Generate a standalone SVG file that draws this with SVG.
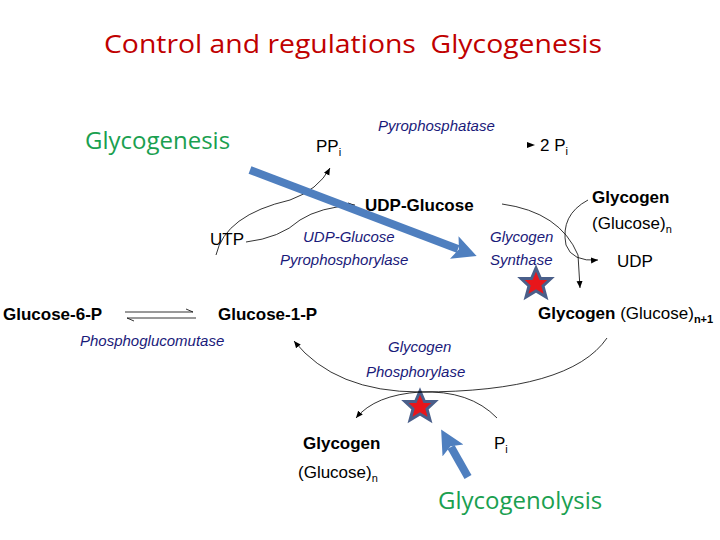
<svg xmlns="http://www.w3.org/2000/svg" width="720" height="540" viewBox="0 0 720 540">
<style>
.t{font-family:"Liberation Sans",Arial,sans-serif;fill:#000}
.b{font-weight:bold;font-size:17px}
.n{font-size:17px}
.e{font-family:"Liberation Sans",Arial,sans-serif;font-style:italic;fill:#1a1a7a;font-size:15px}
.g{font-family:"Open Sans","Liberation Sans",sans-serif;fill:#1aa050;font-size:24px}
.c{fill:none;stroke:#000;stroke-width:0.8}
.star{fill:#e8161b;stroke:#4a5f8a;stroke-width:3;stroke-linejoin:miter}
.big{stroke:#4f7fbf;stroke-width:8;fill:none}
</style>
<defs>
<marker id="a" markerWidth="8" markerHeight="8" refX="7" refY="4" orient="auto" markerUnits="userSpaceOnUse"><path d="M0,1 L7,4 L0,7 Z" fill="#000"/></marker>
<marker id="bA" markerWidth="30" markerHeight="30" refX="4" refY="12" orient="auto" markerUnits="userSpaceOnUse"><path d="M0,0 L24,12 L0,24 L5,12 Z" fill="#4f7fbf"/></marker>
</defs>
<rect width="720" height="540" fill="#fff"/>
<text x="353" y="53" text-anchor="middle" font-family="Open Sans,Liberation Sans,sans-serif" font-size="25" fill="#c00000" textLength="498" lengthAdjust="spacingAndGlyphs" xml:space="preserve">Control and regulations  Glycogenesis</text>
<text class="g" x="85" y="149">Glycogenesis</text>
<text class="g" x="438" y="509">Glycogenolysis</text>
<g id="nodes">
<g id="ppi"><text class="t n" x="316" y="152">PP<tspan font-size="11" dy="4">i</tspan></text></g>
<g id="pyrophosphatase"><text class="e" x="378" y="131">Pyrophosphatase</text></g>
<g id="twopi"><path d="M527,142 L535,145 L527,148 Z"/><text class="t n" x="540" y="151">2 P<tspan font-size="11" dy="4">i</tspan></text></g>
<g id="udpglc"><text class="t b" x="365" y="211">UDP-Glucose</text></g>
<g id="utp"><text class="t n" x="210" y="245">UTP</text></g>
<g id="udpgp"><text class="e" x="303" y="242">UDP-Glucose</text><text class="e" x="280" y="265">Pyrophosphorylase</text></g>
<g id="gs"><text class="e" x="490" y="242">Glycogen</text><text class="e" x="490" y="265">Synthase</text></g>
<g id="glycn"><text class="t b" x="592" y="203">Glycogen</text><text class="t n" x="592" y="229">(Glucose)<tspan font-size="11" dy="4">n</tspan></text></g>
<g id="udp"><text class="t n" x="617" y="267">UDP</text></g>
<g id="g6p"><text class="t b" x="3" y="320">Glucose-6-P</text></g>
<g id="g1p"><text class="t b" x="218" y="320">Glucose-1-P</text></g>
<g id="glycn1"><text class="t b" x="538" y="319">Glycogen <tspan font-weight="normal">(Glucose)</tspan><tspan font-size="11" dy="4">n+1</tspan></text></g>
<g id="pgm"><text class="e" x="80" y="346">Phosphoglucomutase</text></g>
<g id="gp"><text class="e" x="388" y="352">Glycogen</text><text class="e" x="366" y="377">Phosphorylase</text></g>
<g id="glycn2"><text class="t b" x="303" y="449">Glycogen</text><text class="t n" x="298" y="478">(Glucose)<tspan font-size="11" dy="4">n</tspan></text></g>
<g id="pi"><text class="t n" x="494" y="449">P<tspan font-size="11" dy="4">i</tspan></text></g>
<g id="star1"><path class="star" transform="translate(536,283)" d="M0,-15 L4.5,-4.5 L15,-4.5 L7,3 L10,14 L0,8 L-10,14 L-7,3 L-15,-4.5 L-4.5,-4.5 Z"/></g>
<g id="star2"><path class="star" transform="translate(420,406)" d="M0,-15 L4.5,-4.5 L15,-4.5 L7,3 L10,14 L0,8 L-10,14 L-7,3 L-15,-4.5 L-4.5,-4.5 Z"/></g>
</g>
<g id="connectors">
<path class="c" d="M216,255 Q225,215 290,200 Q318,190 330,168" marker-end="url(#a)"/>
<path class="c" d="M246,242 Q280,238 300,220 Q320,207 355,205" marker-end="url(#a)"/>
<path class="c" d="M502,204 Q560,212 578,255 L580,288" marker-end="url(#a)"/>
<path class="c" d="M588,200 Q560,215 566,245 Q572,262 598,260" marker-end="url(#a)"/>
<path class="c" d="M125,312 L193,312 M186,309 L193,312"/>
<path class="c" d="M127,318 L196,318 M127,318 L134,321"/>
<path class="c" d="M607,338 Q570,392 420,392 Q335,392 294,341" marker-end="url(#a)"/>
<path class="c" d="M497,418 Q470,390 420,392 Q375,395 356,418" marker-end="url(#a)"/>
<path class="big" d="M250,170 L458,249" marker-end="url(#bA)"/>
<path class="big" d="M468,477 L451,447" marker-end="url(#bA)"/>
</g>
</svg>
